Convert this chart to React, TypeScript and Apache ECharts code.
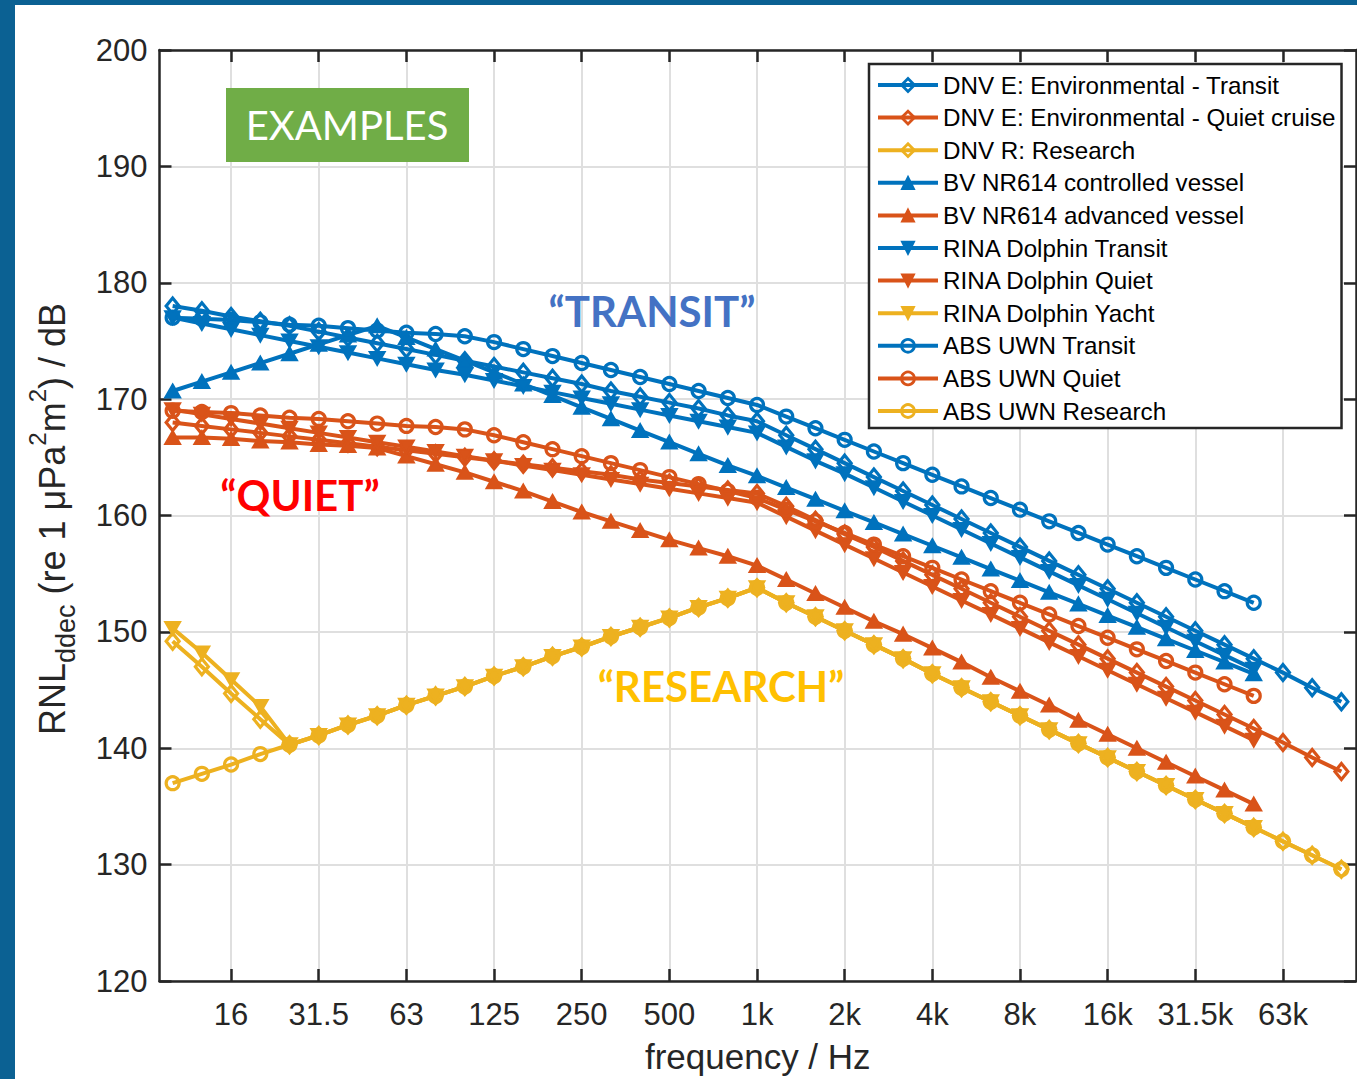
import React, { useEffect, useRef } from "react";
import * as echarts from "echarts";

// third-octave band centre frequencies (index 0 = 10 Hz ... 40 = 100 kHz)
const BANDS = ["10","12.5","16","20","25","31.5","40","50","63","80","100","125","160","200","250","315","400","500","630","800","1k","1.25k","1.6k","2k","2.5k","3.15k","4k","5k","6.3k","8k","10k","12.5k","16k","20k","25k","31.5k","40k","50k","63k","80k","100k"];
const TICK_LABELS = ["16","31.5","63","125","250","500","1k","2k","4k","8k","16k","31.5k","63k"];
const Y_MIN = 120;
const Y_MAX = 200;
const Y_STEP = 10;

const SERIES_NAMES = [
  "DNV E: Environmental - Transit",
  "DNV E: Environmental - Quiet cruise",
  "DNV R: Research",
  "BV NR614 controlled vessel",
  "BV NR614 advanced vessel",
  "RINA Dolphin Transit",
  "RINA Dolphin Quiet",
  "RINA Dolphin Yacht",
  "ABS UWN Transit",
  "ABS UWN Quiet",
  "ABS UWN Research",
];

const DNV_E_TRANSIT = [178.0,177.6,177.1,176.7,176.3,175.8,175.3,174.8,174.3,173.8,173.3,172.8,172.3,171.8,171.3,170.7,170.2,169.7,169.2,168.6,168.1,166.9,165.7,164.5,163.3,162.1,160.9,159.7,158.5,157.3,156.1,154.9,153.7,152.5,151.3,150.1,148.9,147.7,146.5,145.2,144.0];
const DNV_E_QUIET = [168.0,167.7,167.4,167.1,166.8,166.5,166.2,165.9,165.6,165.3,165.0,164.7,164.4,164.1,163.8,163.5,163.1,162.8,162.5,162.2,161.9,160.8,159.6,158.4,157.3,156.1,154.9,153.7,152.5,151.3,150.1,148.9,147.7,146.5,145.3,144.1,142.9,141.7,140.5,139.2,138.0];
const DNV_R_RESEARCH = [149.2,147.0,144.7,142.5,140.3,141.1,142.0,142.8,143.7,144.5,145.3,146.2,147.0,147.9,148.7,149.6,150.4,151.2,152.1,152.9,153.8,152.5,151.3,150.1,148.9,147.7,146.4,145.2,144.0,142.8,141.6,140.4,139.2,138.0,136.8,135.6,134.4,133.2,132.0,130.8,129.6];
const BV_CONTROLLED = [170.7,171.5,172.3,173.1,173.9,174.7,175.5,176.3,175.3,174.3,173.3,172.3,171.3,170.3,169.3,168.3,167.3,166.3,165.3,164.3,163.4,162.4,161.4,160.4,159.4,158.4,157.4,156.4,155.4,154.4,153.4,152.4,151.4,150.4,149.4,148.4,147.4,146.4];
const BV_ADVANCED = [166.7,166.7,166.6,166.4,166.3,166.1,166.0,165.8,165.1,164.4,163.7,162.9,162.1,161.2,160.3,159.5,158.7,157.9,157.2,156.5,155.7,154.5,153.3,152.1,150.9,149.8,148.6,147.4,146.1,144.9,143.7,142.4,141.2,140.0,138.8,137.6,136.4,135.2];
const RINA_TRANSIT = [177.0,176.5,176.0,175.5,175.0,174.5,174.0,173.5,173.0,172.5,172.1,171.6,171.1,170.6,170.1,169.6,169.1,168.6,168.1,167.6,167.1,165.9,164.7,163.6,162.4,161.2,160.0,158.8,157.6,156.4,155.2,154.0,152.8,151.6,150.4,149.2,148.0,146.8];
const RINA_QUIET = [169.1,168.7,168.3,167.9,167.5,167.1,166.7,166.3,165.9,165.5,165.1,164.7,164.3,163.9,163.5,163.1,162.7,162.3,161.9,161.5,161.1,159.9,158.7,157.5,156.3,155.1,153.9,152.7,151.5,150.3,149.1,147.9,146.7,145.5,144.3,143.1,141.9,140.7];
const RINA_YACHT = [150.3,148.2,145.9,143.6,140.3,141.1,142.0,142.8,143.7,144.5,145.3,146.2,147.0,147.9,148.7,149.6,150.4,151.2,152.1,152.9,153.8,152.5,151.3,150.1,148.9,147.7,146.4,145.2,144.0,142.8,141.6,140.4,139.2,138.0,136.8,135.6,134.4,133.2];
const ABS_TRANSIT = [177.0,176.9,176.8,176.6,176.4,176.3,176.1,175.9,175.7,175.6,175.4,174.9,174.3,173.7,173.1,172.5,171.9,171.3,170.7,170.1,169.5,168.5,167.5,166.5,165.5,164.5,163.5,162.5,161.5,160.5,159.5,158.5,157.5,156.5,155.5,154.5,153.5,152.5];
const ABS_QUIET = [169.0,168.9,168.8,168.6,168.4,168.3,168.1,167.9,167.7,167.6,167.4,166.9,166.3,165.7,165.1,164.5,163.9,163.3,162.7,162.1,161.5,160.5,159.5,158.5,157.5,156.5,155.5,154.5,153.5,152.5,151.5,150.5,149.5,148.5,147.5,146.5,145.5,144.5];
const ABS_RESEARCH = [137.0,137.8,138.6,139.5,140.3,141.1,142.0,142.8,143.7,144.5,145.3,146.2,147.0,147.9,148.7,149.6,150.4,151.2,152.1,152.9,153.8,152.5,151.3,150.1,148.9,147.7,146.4,145.2,144.0,142.8,141.6,140.4,139.2,138.0,136.8,135.6,134.4,133.2,132.0,130.8,129.6];

const SERIES_VALUES = [
  DNV_E_TRANSIT, DNV_E_QUIET, DNV_R_RESEARCH,
  BV_CONTROLLED, BV_ADVANCED,
  RINA_TRANSIT, RINA_QUIET, RINA_YACHT,
  ABS_TRANSIT, ABS_QUIET, ABS_RESEARCH,
];

// styling
const BLUE = "#0072BD";
const ORANGE = "#D95319";
const YELLOW = "#EDB120";
const COLORS = [BLUE, ORANGE, YELLOW, BLUE, ORANGE, BLUE, ORANGE, YELLOW, BLUE, ORANGE, YELLOW];
type Mk = { symbol: string; size: number | number[]; rotate: number; hollow: boolean };
const DIAMOND: Mk = { symbol: "diamond", size: [13, 16], rotate: 0, hollow: true };
const TRI_UP: Mk = { symbol: "triangle", size: [15, 13], rotate: 0, hollow: false };
const TRI_DOWN: Mk = { symbol: "triangle", size: [15, 13], rotate: 180, hollow: false };
const CIRCLE: Mk = { symbol: "circle", size: 13, rotate: 0, hollow: true };
const MARKERS = [DIAMOND, DIAMOND, DIAMOND, TRI_UP, TRI_UP, TRI_DOWN, TRI_DOWN, TRI_DOWN, CIRCLE, CIRCLE, CIRCLE];

const AXIS_COLOR = "#262626";
const GRID_COLOR = "#dfdfdf";
const FONT = "Liberation Sans";

function buildOption() {
  const tickIdx = TICK_LABELS.map((t) => BANDS.indexOf(t));
  const series = SERIES_NAMES.map((name, k) => {
    const mk = MARKERS[k];
    const c = COLORS[k];
    return {
      type: "line",
      name,
      data: SERIES_VALUES[k].map((v, i) => [i, v]),
      symbol: mk.symbol,
      symbolSize: mk.size,
      symbolRotate: mk.rotate,
      showAllSymbol: true,
      lineStyle: { color: c, width: 4 },
      itemStyle: {
        color: mk.hollow ? "rgba(255,255,255,0)" : c,
        borderColor: c,
        borderWidth: mk.hollow ? 3.2 : 2,
      },
      emphasis: { disabled: true },
      silent: true,
      z: 3,
    };
  });
  const legendData = SERIES_NAMES.map((name, k) => ({
    name,
    itemStyle: {
      color: MARKERS[k].hollow ? "rgba(255,255,255,0)" : COLORS[k],
      borderColor: COLORS[k],
      borderWidth: MARKERS[k].hollow ? 2.8 : 1.5,
    },
    lineStyle: { color: COLORS[k], width: 4 },
  }));

  const tickStyle = { inside: true, length: 12, lineStyle: { color: AXIS_COLOR, width: 2.5 } };
  const lineStyle = { show: true, onZero: false, lineStyle: { color: AXIS_COLOR, width: 2.5 } };
  const X_MIN = -0.45;
  const X_MAX = BANDS.length - 0.5;

  return {
    animation: false,
    backgroundColor: "#ffffff",
    grid: { left: 144.5, right: 1, top: 45, bottom: 93, containLabel: false },
    xAxis: [
      {
        type: "value",
        min: X_MIN,
        max: X_MAX,
        position: "bottom",
        axisLine: lineStyle,
        axisTick: { ...tickStyle, customValues: tickIdx },
        axisLabel: {
          customValues: tickIdx,
          formatter: (v: number) => BANDS[Math.round(v)],
          fontSize: 31,
          fontFamily: FONT,
          color: AXIS_COLOR,
          margin: 18,
        },
        splitLine: { show: true, lineStyle: { color: GRID_COLOR, width: 2 } },
        name: "frequency / Hz",
        nameLocation: "middle",
        nameGap: 58,
        nameTextStyle: { fontSize: 35, fontFamily: FONT, color: AXIS_COLOR },
      },
      {
        type: "value",
        min: X_MIN,
        max: X_MAX,
        position: "top",
        axisLine: lineStyle,
        axisTick: { ...tickStyle, customValues: tickIdx },
        axisLabel: { show: false },
        splitLine: { show: false },
      },
    ],
    yAxis: [
      {
        type: "value",
        min: Y_MIN,
        max: Y_MAX,
        interval: Y_STEP,
        position: "left",
        axisLine: lineStyle,
        axisTick: tickStyle,
        axisLabel: { fontSize: 31, fontFamily: FONT, color: AXIS_COLOR, margin: 12 },
        splitLine: { show: true, lineStyle: { color: GRID_COLOR, width: 2 } },
      },
      {
        type: "value",
        min: Y_MIN,
        max: Y_MAX,
        interval: Y_STEP,
        position: "right",
        axisLine: lineStyle,
        axisTick: tickStyle,
        axisLabel: { show: false },
        splitLine: { show: false },
      },
    ],
    legend: {
      orient: "vertical",
      left: 854,
      top: 59,
      padding: [9, 6, 5, 7],
      itemWidth: 60,
      itemHeight: 16,
      itemGap: 8.6,
      backgroundColor: "#ffffff",
      borderColor: AXIS_COLOR,
      borderWidth: 2.5,
      selectedMode: false,
      textStyle: { fontSize: 24.2, fontFamily: FONT, color: "#000", lineHeight: 24 },
      data: legendData,
    },
    graphic: [
      {
        type: "rect",
        shape: { x: 211, y: 83, width: 243, height: 74 },
        style: { fill: "#70AD47" },
        z: 10,
      },
      {
        type: "text",
        x: 332,
        y: 120,
        z: 11,
        style: { text: "EXAMPLES", fill: "#ffffff", fontSize: 40, fontFamily: "Lato", align: "center", verticalAlign: "middle" },
      },
      {
        type: "text",
        x: 637,
        y: 306,
        z: 11,
        style: { text: "\u201CTRANSIT\u201D", fill: "#4472C4", fontSize: 42, fontWeight: "bold", fontFamily: "Lato", align: "center", verticalAlign: "middle" },
      },
      {
        type: "text",
        x: 285,
        y: 490,
        z: 11,
        style: { text: "\u201CQUIET\u201D", fill: "#FF0000", fontSize: 42, fontWeight: "bold", fontFamily: "Lato", align: "center", verticalAlign: "middle" },
      },
      {
        type: "text",
        x: 706,
        y: 681,
        z: 11,
        style: { text: "\u201CRESEARCH\u201D", fill: "#FFC000", fontSize: 42, fontWeight: "bold", fontFamily: "Lato", align: "center", verticalAlign: "middle" },
      },
      {
        type: "text",
        x: 37,
        y: 514,
        rotation: Math.PI / 2,
        z: 11,
        style: {
          text: "{a|RNL}{b|ddec}{a| (re 1 \u03BCPa}{c|2}{a|m}{c|2}{a|) / dB}",
          align: "center",
          verticalAlign: "middle",
          fill: AXIS_COLOR,
          rich: {
            a: { fontSize: 36, fontFamily: FONT, fill: AXIS_COLOR, lineHeight: 54 },
            b: { fontSize: 27, fontFamily: FONT, fill: AXIS_COLOR, lineHeight: 27, verticalAlign: "bottom" },
            c: { fontSize: 24, fontFamily: FONT, fill: AXIS_COLOR, lineHeight: 24, verticalAlign: "top" },
          },
        },
      },
    ],
    series,
  };
}

export default function App() {
  const ref = useRef<HTMLDivElement>(null);
  useEffect(() => {
    document.body.style.margin = "0";
    const chart = echarts.init(ref.current!, null, { renderer: "svg" });
    chart.setOption(buildOption() as any);
    return () => chart.dispose();
  }, []);
  return (
    <div style={{ position: "relative", width: 1357, height: 1079, background: "#0B6193", overflow: "hidden" }}>
      <div
        ref={ref}
        style={{ position: "absolute", left: 15, top: 5, width: 1342, height: 1074, background: "#ffffff" }}
      />
    </div>
  );
}
